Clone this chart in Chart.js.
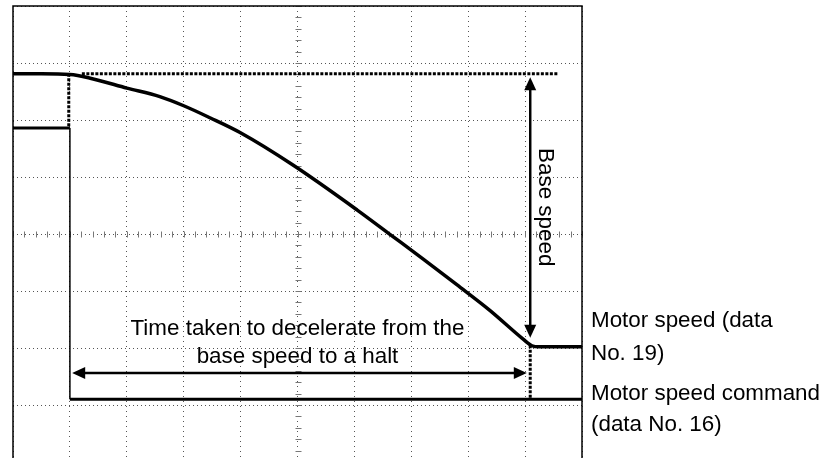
<!DOCTYPE html>
<html><head><meta charset="utf-8">
<script src="https://cdn.jsdelivr.net/npm/chart.js@4.4.1/dist/chart.umd.min.js"></script>
<style>html,body{margin:0;padding:0;overflow:hidden;background:#fff;width:833px;height:458px}canvas{display:block}</style>
</head><body>
<canvas id="c" width="833" height="470"></canvas>
<script>
// Scope-style axes: 10 horizontal divisions, 8 vertical divisions (centre = 0)
const xDivisions = [0, 1, 2, 3, 4, 5, 6, 7, 8, 9, 10];
const yDivisions = [-4, -3, -2, -1, 0, 1, 2, 3, 4];

// Motor speed (data No. 19)
const speedX = [0, 0.5, 1.0, 1.41, 2.0, 2.58, 3.0, 3.46, 3.99, 4.92, 6.05, 6.63, 7.21, 7.80, 8.38, 8.96, 9.12, 9.25, 10];
const speedY = [2.81, 2.81, 2.80, 2.72, 2.56, 2.41, 2.25, 2.04, 1.78, 1.21, 0.42, -0.01, -0.44, -0.89, -1.34, -1.84, -1.96, -1.98, -1.98];

// Motor speed command (data No. 16)
const cmdX = [0, 1.0, 1.0, 10];
const cmdY = [1.86, 1.86, -2.90, -2.90];

// Annotation texts
const noteLines = ["Time taken to decelerate from the", "base speed to a halt"];
const baseLabel = "Base speed";
const speedLabel = ["Motor speed (data", "No. 19)"];
const cmdLabel = ["Motor speed command", "(data No. 16)"];

// Annotation geometry (chart units)
const baseLevel = 2.81, stepX = 0.98, haltX = 9.09;
const FONT = '22.4px "Liberation Sans", Arial, sans-serif';

function arrowHead(ctx, tx, ty, dx, dy) {
  const L = 13, W = 6;
  ctx.beginPath();
  ctx.moveTo(tx, ty);
  ctx.lineTo(tx - dx * L - dy * W, ty - dy * L + dx * W);
  ctx.lineTo(tx - dx * L + dy * W, ty - dy * L - dx * W);
  ctx.closePath();
  ctx.fill();
}

const scopePlugin = {
  id: 'scope',
  beforeDatasetsDraw(chart) {
    const {ctx, chartArea: a, scales: {x, y}} = chart;
    ctx.save();
    ctx.strokeStyle = '#777';
    ctx.lineWidth = 1;
    const cx = Math.round(x.getPixelForValue(5)) + 0.5;
    const cy = Math.round(y.getPixelForValue(0)) + 0.5;
    ctx.beginPath();
    for (let i = 0; i <= 50; i++) {
      const px = Math.round(x.getPixelForValue(i * 0.2)) + 0.5;
      ctx.moveTo(px, cy - 3); ctx.lineTo(px, cy + 3);
    }
    for (let i = -20; i <= 20; i++) {
      const py = Math.round(y.getPixelForValue(i * 0.2)) + 0.5;
      ctx.moveTo(cx - 3, py); ctx.lineTo(cx + 3, py);
    }
    ctx.stroke();
    ctx.restore();
  },
  afterDraw(chart) {
    const {ctx, chartArea: a, scales: {x, y}} = chart;
    ctx.save();
    // frame
    ctx.strokeStyle = '#000';
    ctx.lineWidth = 1.5;
    ctx.strokeRect(a.left, a.top, a.right - a.left, a.bottom - a.top);

    // dotted guide lines
    ctx.lineWidth = 3;
    ctx.setLineDash([3, 1.5]);
    ctx.beginPath();
    ctx.moveTo(x.getPixelForValue(1.21), y.getPixelForValue(baseLevel));
    ctx.lineTo(x.getPixelForValue(9.58), y.getPixelForValue(baseLevel));
    ctx.moveTo(x.getPixelForValue(stepX), y.getPixelForValue(baseLevel));
    ctx.lineTo(x.getPixelForValue(stepX), y.getPixelForValue(cmdY[1]));
    ctx.moveTo(x.getPixelForValue(haltX), y.getPixelForValue(-1.95));
    ctx.lineTo(x.getPixelForValue(haltX), y.getPixelForValue(cmdY[3]));
    ctx.stroke();
    ctx.setLineDash([]);

    // arrows
    ctx.fillStyle = '#000';
    ctx.lineWidth = 2.5;
    const ax = x.getPixelForValue(haltX);
    const ay1 = y.getPixelForValue(2.75), ay2 = y.getPixelForValue(-1.82);
    ctx.beginPath(); ctx.moveTo(ax, ay1 + 10); ctx.lineTo(ax, ay2 - 10); ctx.stroke();
    arrowHead(ctx, ax, ay1, 0, -1);
    arrowHead(ctx, ax, ay2, 0, 1);
    const hy = y.getPixelForValue(-2.44);
    const hx1 = x.getPixelForValue(1.04), hx2 = x.getPixelForValue(9.03);
    ctx.beginPath(); ctx.moveTo(hx1 + 10, hy); ctx.lineTo(hx2 - 10, hy); ctx.stroke();
    arrowHead(ctx, hx1, hy, -1, 0);
    arrowHead(ctx, hx2, hy, 1, 0);

    // texts
    ctx.font = FONT;
    ctx.textAlign = 'center';
    ctx.textBaseline = 'alphabetic';
    ctx.fillText(noteLines[0], x.getPixelForValue(5), y.getPixelForValue(-1.77));
    ctx.fillText(noteLines[1], x.getPixelForValue(5), y.getPixelForValue(-2.26));

    ctx.save();
    ctx.translate(x.getPixelForValue(9.24), y.getPixelForValue(0.47));
    ctx.rotate(Math.PI / 2);
    ctx.fillText(baseLabel, 0, 0);
    ctx.restore();

    ctx.textAlign = 'left';
    const lx = a.right + 9;
    ctx.fillText(speedLabel[0], lx, y.getPixelForValue(-1.63));
    ctx.fillText(speedLabel[1], lx, y.getPixelForValue(-2.21));
    ctx.fillText(cmdLabel[0], lx, y.getPixelForValue(-2.91));
    ctx.fillText(cmdLabel[1], lx, y.getPixelForValue(-3.45));
    ctx.restore();
  }
};

const toPts = (xs, ys) => xs.map((v, i) => ({x: v, y: ys[i]}));

new Chart(document.getElementById('c'), {
  type: 'line',
  data: {
    datasets: [
      {label: 'Motor speed (data No. 19)', data: toPts(speedX, speedY), borderColor: '#000', borderWidth: 3.5, pointRadius: 0, cubicInterpolationMode: 'monotone'},
      {label: 'Motor speed command (data No. 16)', data: toPts(cmdX, cmdY), borderColor: '#000', borderWidth: 3, pointRadius: 0, tension: 0,
        segment: {borderWidth: c => (c.p0.parsed.x === c.p1.parsed.x ? 1.5 : 3)}}
    ]
  },
  options: {
    responsive: false,
    animation: false,
    devicePixelRatio: 1,
    layout: {padding: {left: 13, top: 6, right: 251, bottom: 8}},
    plugins: {legend: {display: false}, tooltip: {enabled: false}},
    scales: {
      x: {
        type: 'linear', min: xDivisions[0], max: xDivisions[xDivisions.length - 1],
        afterBuildTicks: s => { s.ticks = xDivisions.map(v => ({value: v})); },
        ticks: {display: false},
        grid: {color: '#555', lineWidth: 1, drawTicks: false},
        border: {display: false, dash: [1, 4]},
        afterFit: s => { s.height = 0; }
      },
      y: {
        type: 'linear', min: yDivisions[0], max: yDivisions[yDivisions.length - 1],
        afterBuildTicks: s => { s.ticks = yDivisions.map(v => ({value: v})); },
        ticks: {display: false},
        grid: {color: '#555', lineWidth: 1, drawTicks: false},
        border: {display: false, dash: [1, 3]},
        afterFit: s => { s.height = 0; s.width = 0; }
      }
    }
  },
  plugins: [scopePlugin]
});
</script>
</body></html>
